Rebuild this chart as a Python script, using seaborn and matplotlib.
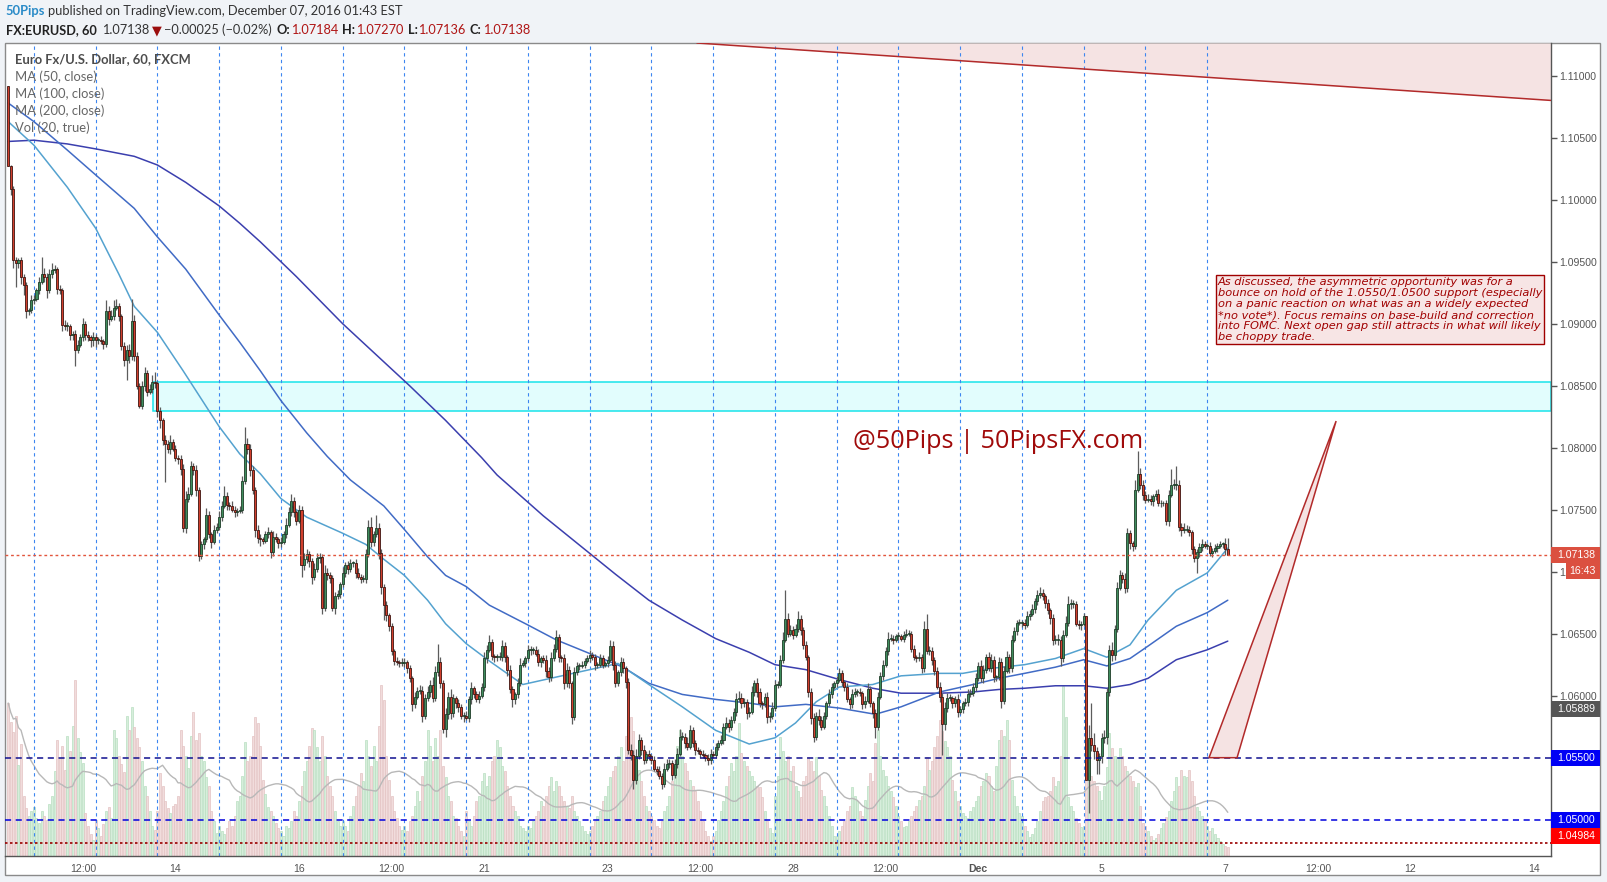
import numpy as np
import pandas as pd
import matplotlib
matplotlib.use("Agg")
import matplotlib.pyplot as plt
import matplotlib.transforms as mtransforms
from matplotlib.patches import Rectangle, Polygon
from matplotlib.ticker import FormatStrFormatter
import seaborn as sns

W, H = 1607, 882

# ---- EURUSD 60 min candles (FXCM) ----
first_open = 1.1092
close_blocks = [
    [1.1027, 1.1009, 1.0951, 1.0949, 1.0951, 1.0938, 1.0931, 1.0910, 1.0911, 1.0919, 1.0920, 1.0927, 1.0934,
     1.0940, 1.0938, 1.0927, 1.0940, 1.0943, 1.0944, 1.0928, 1.0927, 1.0899, 1.0898, 1.0898, 1.0891],
    [1.0892, 1.0879, 1.0883, 1.0889, 1.0900, 1.0891, 1.0889, 1.0887, 1.0889, 1.0887, 1.0887, 1.0886, 1.0884,
     1.0910, 1.0904, 1.0906, 1.0913, 1.0914, 1.0906, 1.0882, 1.0871, 1.0879, 1.0874, 1.0902, 1.0874],
    [1.0850, 1.0834, 1.0850, 1.0860, 1.0845, 1.0847, 1.0853, 1.0852, 1.0830, 1.0822, 1.0806, 1.0803, 1.0799,
     1.0805, 1.0799, 1.0792, 1.0791, 1.0783, 1.0735, 1.0759, 1.0763, 1.0785, 1.0782, 1.0766, 1.0713],
    [1.0722, 1.0726, 1.0746, 1.0730, 1.0724, 1.0734, 1.0736, 1.0744, 1.0753, 1.0761, 1.0754, 1.0753, 1.0750,
     1.0748, 1.0749, 1.0750, 1.0773, 1.0803, 1.0799, 1.0782, 1.0766, 1.0734, 1.0727, 1.0726, 1.0725],
    [1.0730, 1.0732, 1.0716, 1.0728, 1.0726, 1.0723, 1.0724, 1.0730, 1.0738, 1.0748, 1.0757, 1.0748, 1.0741,
     1.0750, 1.0705, 1.0710, 1.0714, 1.0709, 1.0696, 1.0702, 1.0711, 1.0712, 1.0671, 1.0699, 1.0697],
    [1.0695, 1.0671, 1.0680, 1.0682, 1.0690, 1.0699, 1.0705, 1.0702, 1.0707, 1.0707, 1.0699, 1.0696, 1.0694,
     1.0694, 1.0714, 1.0736, 1.0724, 1.0730, 1.0735, 1.0715, 1.0688, 1.0673, 1.0665, 1.0656, 1.0636],
    [1.0628, 1.0627, 1.0626, 1.0626, 1.0627, 1.0622, 1.0614, 1.0593, 1.0599, 1.0604, 1.0604, 1.0584, 1.0598,
     1.0603, 1.0609, 1.0598, 1.0619, 1.0627, 1.0610, 1.0573, 1.0585, 1.0599, 1.0586, 1.0598, 1.0594],
    [1.0591, 1.0584, 1.0584, 1.0582, 1.0597, 1.0606, 1.0601, 1.0597, 1.0600, 1.0607, 1.0630, 1.0637, 1.0643,
     1.0632, 1.0631, 1.0631, 1.0631, 1.0640, 1.0631, 1.0621, 1.0605, 1.0597, 1.0601, 1.0610, 1.0625],
    [1.0626, 1.0630, 1.0637, 1.0637, 1.0637, 1.0634, 1.0627, 1.0630, 1.0629, 1.0620, 1.0615, 1.0630, 1.0638,
     1.0647, 1.0631, 1.0630, 1.0610, 1.0621, 1.0610, 1.0583, 1.0619, 1.0624, 1.0624, 1.0625, 1.0628],
    [1.0630, 1.0633, 1.0631, 1.0625, 1.0625, 1.0630, 1.0625, 1.0626, 1.0629, 1.0640, 1.0625, 1.0610, 1.0619,
     1.0627, 1.0622, 1.0611, 1.0556, 1.0552, 1.0532, 1.0551, 1.0564, 1.0556, 1.0548, 1.0553, 1.0551],
    [1.0548, 1.0541, 1.0539, 1.0535, 1.0529, 1.0541, 1.0545, 1.0546, 1.0536, 1.0545, 1.0553, 1.0567, 1.0567,
     1.0562, 1.0559, 1.0572, 1.0562, 1.0556, 1.0555, 1.0553, 1.0552, 1.0550, 1.0548, 1.0553, 1.0552],
    [1.0559, 1.0562, 1.0564, 1.0575, 1.0578, 1.0575, 1.0580, 1.0587, 1.0597, 1.0598, 1.0594, 1.0595, 1.0586,
     1.0587, 1.0603, 1.0610, 1.0603, 1.0594, 1.0593, 1.0599, 1.0583, 1.0584, 1.0590, 1.0609, 1.0609],
    [1.0629, 1.0645, 1.0662, 1.0650, 1.0653, 1.0649, 1.0654, 1.0662, 1.0653, 1.0641, 1.0631, 1.0603, 1.0582,
     1.0567, 1.0584, 1.0580, 1.0575, 1.0584, 1.0594, 1.0601, 1.0607, 1.0610, 1.0613, 1.0618, 1.0611],
    [1.0607, 1.0597, 1.0593, 1.0601, 1.0603, 1.0603, 1.0602, 1.0593, 1.0596, 1.0605, 1.0594, 1.0586, 1.0575,
     1.0599, 1.0616, 1.0625, 1.0636, 1.0646, 1.0646, 1.0645, 1.0648, 1.0648, 1.0646, 1.0649, 1.0650],
    [1.0650, 1.0638, 1.0631, 1.0630, 1.0631, 1.0622, 1.0654, 1.0636, 1.0636, 1.0629, 1.0620, 1.0607, 1.0599,
     1.0577, 1.0590, 1.0598, 1.0598, 1.0594, 1.0597, 1.0587, 1.0589, 1.0594, 1.0595, 1.0601, 1.0602],
    [1.0607, 1.0614, 1.0624, 1.0614, 1.0621, 1.0631, 1.0622, 1.0629, 1.0615, 1.0615, 1.0627, 1.0596, 1.0620,
     1.0631, 1.0622, 1.0645, 1.0652, 1.0659, 1.0659, 1.0659, 1.0657, 1.0664, 1.0666, 1.0670, 1.0676],
    [1.0681, 1.0683, 1.0680, 1.0675, 1.0669, 1.0663, 1.0645, 1.0645, 1.0645, 1.0630, 1.0649, 1.0659, 1.0674,
     1.0674, 1.0674, 1.0658, 1.0657, 1.0658, 1.0664, 1.0532, 1.0566, 1.0560, 1.0555, 1.0548, 1.0551],
    [1.0566, 1.0567, 1.0603, 1.0637, 1.0633, 1.0654, 1.0687, 1.0697, 1.0694, 1.0687, 1.0731, 1.0723, 1.0721,
     1.0766, 1.0779, 1.0770, 1.0762, 1.0758, 1.0759, 1.0757, 1.0761, 1.0763, 1.0755, 1.0755, 1.0755],
    [1.0741, 1.0762, 1.0770, 1.0770, 1.0770, 1.0736, 1.0734, 1.0734, 1.0734, 1.0732, 1.0718, 1.0711, 1.0716,
     1.0720, 1.0722, 1.0721, 1.0721, 1.0715, 1.0717, 1.0719, 1.0721, 1.0722, 1.0722, 1.07184, 1.07138],
]
# wick lengths in pips, one base-36 character per candle
wick_up_blocks = [
    "0123232324324e53463232432", "23435232432329456632345i5", "3245346823243523234654342",
    "32532435483243234e5432432", "3425324354632435432543264", "324325343234234683b432323",
    "23243232435435465f4354632", "3234352343546323453243245", "3243234234354632453243232",
    "3423243235432432354653423", "2324354324564354323232342", "3243534356432453432343543",
    "46n5434632323435432432343", "2324323245323434354323234", "3232436c43234354323432343",
    "3435434532434534323234343", "45323234534564323230asa43", "45346354354328i5434323432",
    "34d5f43543232343232323259",
]
wick_dn_blocks = [
    "056j468532323246232435344", "4d3234365632435232435g634", "32343234564v3423453432454",
    "3423523232432432324536453", "2353243232343294356324534", "435232342342323243256c543",
    "3232343532353243234364534", "4352343232342343234536432", "2324323435432343534632323",
    "2324323232432345347324323", "3232432342323432342323432", "2323243232435323434254323",
    "2323232343245434323232323", "3243232432349323232323232", "2323243234324p53243423232",
    "2323432343263243232432323", "32343543463234323420r56bb", "5463543234354323432343232",
    "342343532343c432323232350",
]
volume_blocks = [
    [153, 134, 124, 140, 91, 112, 60, 48, 40, 45],
    [49, 38, 33, 45, 40, 36, 52, 60, 85, 116, 98, 110, 86, 120, 105, 130, 176, 118, 104, 93, 43, 30, 22, 16],
    [36, 28, 20, 32, 45, 49, 38, 126, 118, 100, 92, 84, 140, 126, 149, 129, 118, 109, 95, 70, 60, 45, 30, 26],
    [45, 83, 70, 55, 48, 43, 50, 52, 60, 126, 110, 100, 88, 120, 144, 116, 123, 100, 95, 79, 70, 45, 35, 23],
    [30, 25, 22, 28, 35, 30, 40, 55, 60, 80, 114, 95, 100, 120, 139, 133, 110, 76, 62, 49, 45, 40, 33, 28],
    [25, 20, 30, 28, 35, 45, 40, 55, 70, 85, 95, 110, 128, 126, 109, 95, 120, 100, 80, 70, 60, 45, 35, 30],
    [35, 30, 25, 40, 50, 60, 70, 83, 75, 116, 100, 90, 110, 95, 130, 171, 156, 100, 76, 60, 45, 38, 30, 26],
    [30, 25, 35, 40, 50, 65, 55, 80, 95, 126, 110, 95, 118, 100, 126, 90, 79, 60, 55, 40, 38, 30, 25, 20],
    [45, 35, 30, 40, 55, 60, 75, 83, 70, 80, 95, 100, 116, 109, 90, 85, 70, 60, 50, 45, 40, 30, 28, 25],
    [30, 28, 35, 40, 45, 55, 50, 60, 70, 79, 65, 75, 70, 60, 55, 50, 48, 60, 45, 40, 35, 30, 25, 22],
    [25, 30, 35, 40, 45, 55, 60, 70, 79, 85, 90, 100, 109, 95, 120, 130, 139, 125, 100, 86, 75, 60, 50, 45],
    [40, 36, 30, 28, 35, 45, 50, 60, 75, 90, 110, 126, 100, 93, 85, 76, 70, 65, 55, 45, 35, 25, 20, 15],
    [20, 25, 36, 45, 55, 70, 80, 93, 85, 100, 133, 103, 95, 90, 85, 80, 75, 70, 69, 59, 45, 35, 28, 23],
    [60, 80, 119, 105, 95, 100, 85, 90, 70, 65, 59, 75, 80, 99, 95, 85, 99, 80, 66, 60, 50, 40, 30, 20],
    [20, 25, 30, 35, 45, 50, 69, 60, 55, 45, 40, 56, 70, 83, 75, 113, 126, 100, 86, 80, 70, 65, 59, 50],
    [40, 35, 29, 30, 35, 40, 45, 50, 56, 60, 70, 99, 86, 95, 109, 120, 136, 125, 115, 109, 100, 76, 65, 55],
    [50, 43, 40, 38, 45, 49, 55, 60, 70, 75, 83, 80, 70, 65, 90, 116, 126, 120, 136, 116, 76, 60, 50, 43],
    [40, 30, 25, 19, 22, 28, 35, 45, 55, 59, 60, 65, 79, 70, 75, 100, 170, 139, 59, 50, 45, 38, 33, 29],
    [30, 96, 83, 80, 75, 70, 65, 56, 70, 89, 123, 108, 100, 99, 108, 100, 90, 85, 80, 75, 69, 73, 50, 33],
    [30, 25, 20, 16, 18, 22, 28, 33, 39, 45, 55, 65, 79, 70, 86, 80, 79, 86, 75, 60, 49, 45, 40, 35],
    [30, 25, 28, 22, 18, 15, 12, 10, 9],
]

# moving averages (bar index, price)
ma50_idx = [0, 10, 23, 34, 43, 49, 58, 68, 82, 90, 98, 106, 116, 130, 139, 146, 154, 163, 170, 178, 187, 200,
            213, 226, 237, 249, 262, 275, 288, 298, 306, 314, 323, 336, 347, 362, 371, 382, 395, 407, 418, 427,
            436, 443, 454, 466, 474]
ma50_val = [1.1063, 1.1044, 1.1010, 1.0977, 1.0940, 1.0914, 1.0893, 1.0862, 1.0817, 1.0795, 1.0779, 1.0759,
            1.0744, 1.0731, 1.0722, 1.0710, 1.0697, 1.0677, 1.0658, 1.0642, 1.0628, 1.0609, 1.0615, 1.0621,
            1.0626, 1.0609, 1.0591, 1.0572, 1.0561, 1.0566, 1.0578, 1.0595, 1.0607, 1.0609, 1.0616, 1.0618,
            1.0618, 1.0622, 1.0625, 1.0630, 1.0638, 1.0631, 1.0641, 1.0661, 1.0685, 1.0699, 1.0719]
ma100_idx = [0, 10, 23, 34, 49, 58, 69, 82, 90, 98, 106, 116, 124, 133, 146, 154, 163, 170, 178, 187, 202, 213,
             226, 239, 249, 262, 275, 288, 298, 310, 323, 337, 347, 362, 375, 385, 395, 407, 418, 427, 436, 443,
             454, 466, 474]
ma100_val = [1.1078, 1.1063, 1.1040, 1.1020, 1.0993, 1.0970, 1.0944, 1.0907, 1.0885, 1.0862, 1.0838, 1.0812,
             1.0793, 1.0774, 1.0753, 1.0734, 1.0712, 1.0697, 1.0688, 1.0673, 1.0657, 1.0645, 1.0634, 1.0623,
             1.0610, 1.0601, 1.0597, 1.0594, 1.0591, 1.0593, 1.0590, 1.0585, 1.0591, 1.0603, 1.0609, 1.0614,
             1.0618, 1.0623, 1.0629, 1.0624, 1.0630, 1.0640, 1.0656, 1.0667, 1.0677]
ma200_idx = [0, 10, 23, 34, 49, 58, 69, 82, 90, 98, 112, 130, 156, 170, 184, 190, 208, 236, 249, 262, 275, 288,
             298, 310, 323, 336, 347, 362, 375, 385, 395, 407, 418, 427, 436, 443, 454, 466, 474]
ma200_val = [1.1047, 1.1048, 1.1045, 1.1041, 1.1035, 1.1028, 1.1014, 1.0995, 1.0981, 1.0966, 1.0938, 1.0900,
             1.0850, 1.0822, 1.0792, 1.0778, 1.0745, 1.0698, 1.0677, 1.0661, 1.0646, 1.0635, 1.0625, 1.0621,
             1.0613, 1.0606, 1.0602, 1.0602, 1.0603, 1.0605, 1.0606, 1.0608, 1.0608, 1.0606, 1.0609, 1.0614,
             1.0629, 1.0637, 1.0644]

session_bars = list(range(10, 467, 24))   # 17:00 EST daily separators
xtick_pos = [29, 65, 113, 149, 185, 233, 269, 305, 341, 377, 425, 473, 509, 545, 593]
xtick_lab = ["12:00", "14", "16", "12:00", "21", "23", "12:00", "28", "12:00", "Dec", "5", "7", "12:00", "12", "14"]
ytick_vals = [1.050, 1.055, 1.060, 1.065, 1.070, 1.075, 1.080, 1.085, 1.090, 1.095, 1.100, 1.105, 1.110]

zone_start, zone_lo, zone_hi = 56.4, 1.0830, 1.0853
trend_x = [267.7, 599.5]
trend_y = [1.11264, 1.10801]
tri_x = [466.7, 477.6, 516.1]
tri_y = [1.0550, 1.0550, 1.08215]
last_price = 1.07138
support_levels = [1.0550, 1.0500]
low_line = 1.04814
price_tags = [("1.07138", 1.07138, "#db5040"), ("1.05889", 1.05889, "#555555"),
              ("1.05500", 1.05500, "#0000f5"), ("1.05000", 1.05000, "#0000f5"),
              ("1.04984", 1.04872, "#ff0000")]
countdown = ("16:43", 1.07008)

note = ("As discussed, the asymmetric opportunity was for a\n"
        "bounce on hold of the 1.0550/1.0500 support (especially\n"
        "on a panic reaction on what was an a widely expected\n"
        "*no vote*). Focus remains on base-build and correction\n"
        "into FOMC. Next open gap still attracts in what will likely\n"
        "be choppy trade.")

# ---- assemble ----
for b in close_blocks:
    assert len(b) == 25
for b in wick_up_blocks + wick_dn_blocks:
    assert len(b) == 25, b
closes = np.array([c for b in close_blocks for c in b])
opens = np.concatenate([[first_open], closes[:-1]])
up_pips = np.array([int(ch, 36) for b in wick_up_blocks for ch in b])
dn_pips = np.array([int(ch, 36) for b in wick_dn_blocks for ch in b])
highs = np.maximum(opens, closes) + up_pips * 1e-4
lows = np.minimum(opens, closes) - dn_pips * 1e-4
volume = np.array([v for b in volume_blocks for v in b], dtype=float)
assert len(volume) == len(closes)
idx = np.arange(len(closes))
rising = closes >= opens
vol_ma = pd.Series(volume).rolling(20, min_periods=1).mean()

sns.set_theme(style="white")
plt.rcParams["font.family"] = ["Liberation Sans", "DejaVu Sans"]

fig = plt.figure(figsize=(W / 100, H / 100), dpi=100)
fig.patch.set_facecolor("#f0f3f7")
fig.add_artist(Rectangle((5 / W, (H - 875) / H), 1595 / W, 832 / H, transform=fig.transFigure,
                         facecolor="white", edgecolor="#8a8a8a", lw=1, zorder=-5))

rect = [5 / W, (H - 856) / H, (1550.7 - 5) / W, (856 - 43) / H]
X_MIN, X_MAX = -1.24, 599.5
Y_MIN, Y_MAX = 1.04707, 1.11264

ax_vol = fig.add_axes(rect)
ax_vol.patch.set_visible(False)
ax_vol.bar(idx, volume, width=0.78,
           color=np.where(rising, "#d6eedb", "#f1dcdc"),
           edgecolor=np.where(rising, "#b9dfc1", "#e3c3c3"), linewidth=0.5)
sns.lineplot(x=idx, y=vol_ma.values, ax=ax_vol, color="#b8b8b8", linewidth=1.0)
ax_vol.set_xlim(X_MIN, X_MAX)
ax_vol.set_ylim(0, 813)
ax_vol.axis("off")

ax = fig.add_axes(rect)
ax.patch.set_visible(False)
ax.set_xlim(X_MIN, X_MAX)
ax.set_ylim(Y_MIN, Y_MAX)

for b in session_bars:
    ax.axvline(b, color="#3d86f0", lw=0.8, ls=(0, (3, 3)), zorder=1.5)

ax.add_patch(Rectangle((zone_start, zone_lo), X_MAX - zone_start, zone_hi - zone_lo,
                       facecolor="#e2fdfd", edgecolor="#19e3ea", lw=1.1, zorder=1.2))
ax.fill_between(trend_x, trend_y, Y_MAX, color="#f5e3e3", zorder=1.1, lw=0)
ax.plot(trend_x, trend_y, color="#b22a2a", lw=1.1, zorder=4)

for mi, mv, col in [(ma200_idx, ma200_val, "#3b3fae"), (ma100_idx, ma100_val, "#416bc5"),
                    (ma50_idx, ma50_val, "#54a2cf")]:
    sns.lineplot(x=mi, y=mv, ax=ax, color=col, linewidth=1.1, zorder=2.5)

ax.vlines(idx, lows, highs, color="#5c5c5c", lw=0.9, zorder=3)
body = np.maximum(np.abs(closes - opens), 0.00008)
ax.bar(idx, body, bottom=np.minimum(opens, closes), width=0.8,
       color=np.where(rising, "#3f8d5d", "#d13f2d"),
       edgecolor=np.where(rising, "#1f3d29", "#3d1510"), linewidth=0.6, zorder=3.5)

ax.axhline(last_price, color="#e2553d", lw=1.0, ls=(0, (2, 2)), zorder=4)
ax.axhline(support_levels[0], color="#101090", lw=1.1, ls=(0, (4, 3)), zorder=4)
ax.axhline(support_levels[1], color="#0000dd", lw=1.1, ls=(0, (4, 3)), zorder=4)
ax.axhline(low_line, color="#9a0000", lw=1.2, ls=(0, (1.5, 1.5)), zorder=4)

ax.add_patch(Polygon(np.column_stack([tri_x, tri_y]), closed=True, facecolor="#f5e3e3",
                     edgecolor="#b22a2a", lw=1.1, zorder=4.5))

ax.text(328.2, 1.08048, "@50Pips | 50PipsFX.com", color="#a00a0a", fontsize=18.2,
        family=["Open Sans", "DejaVu Sans"], ha="left", va="center", zorder=6)
ax.text(470.2, 1.09375, note, color="#a00000", fontsize=8.2, style="italic",
        family=["DejaVu Sans"], ha="left", va="top", linespacing=1.13, zorder=6,
        bbox=dict(boxstyle="square,pad=0.18", facecolor="#f7e5e5", edgecolor="#a00000", lw=1))

# axes styling
for s in ["left", "top"]:
    ax.spines[s].set_visible(False)
for s in ["right", "bottom"]:
    ax.spines[s].set_color("#555555")
    ax.spines[s].set_linewidth(1)
ax.yaxis.tick_right()
ax.set_yticks(ytick_vals)
ax.yaxis.set_major_formatter(FormatStrFormatter("%.5f"))
ax.tick_params(axis="y", direction="out", length=4, width=1, color="#555555",
               labelcolor="#555555", labelsize=7.6, pad=2)
ax.set_xticks(xtick_pos, xtick_lab)
ax.tick_params(axis="x", direction="out", length=4, width=1, color="#555555",
               labelcolor="#555555", labelsize=7.6, pad=2)
for lbl in ax.get_xticklabels():
    if lbl.get_text() == "Dec":
        lbl.set_fontweight("bold")
ax.set_xlabel("")
ax.set_ylabel("")
ax.grid(False)

# price tags on the right scale
bt = mtransforms.blended_transform_factory(ax.transAxes, ax.transData)
axw = 1550.7 - 5
tag_h = 16 / 12400
for txt, yv, col in price_tags:
    ax.add_patch(Rectangle((1.0, yv - tag_h / 2), (1600 - 1550.7) / axw, tag_h, transform=bt,
                           facecolor=col, edgecolor="none", clip_on=False, zorder=10))
    ax.text((1557 - 5) / axw, yv, txt, transform=bt, color="white", fontsize=7.6,
            ha="left", va="center", clip_on=False, zorder=11)
ax.add_patch(Rectangle(((1566 - 5) / axw, countdown[1] - tag_h / 2), (1600 - 1566) / axw, tag_h,
                       transform=bt, facecolor="#db5040", edgecolor="none", clip_on=False, zorder=10))
ax.text((1569 - 5) / axw, countdown[1], countdown[0], transform=bt, color="white", fontsize=7.6,
        ha="left", va="center", clip_on=False, zorder=11)

# legend block, top-left
legend_lines = [("Euro Fx/U.S. Dollar, 60, FXCM", "bold", "#4d4d4d"), ("MA (50, close)", "normal", "#666666"),
                ("MA (100, close)", "normal", "#666666"), ("MA (200, close)", "normal", "#666666"),
                ("Vol (20, true)", "normal", "#666666")]
for k, (txt, wgt, col) in enumerate(legend_lines):
    fig.text(15.4 / W, 1 - (59.5 + 17.1 * k) / H, txt, fontsize=9.4, fontweight=wgt, color=col,
             family=["Lato", "DejaVu Sans"], ha="left", va="center")

# header
renderer = fig.canvas.get_renderer()


def text_runs(items, x, y, size):
    for txt, wgt, col, gap in items:
        t = fig.text(x / W, 1 - y / H, txt, fontsize=size, fontweight=wgt, color=col,
                     family=["Lato", "DejaVu Sans"], ha="left", va="center")
        x += t.get_window_extent(renderer).width + gap


text_runs([("50Pips", "bold", "#2a8bc8", 3),
           ("published on TradingView.com, December 07, 2016 01:43 EST", "normal", "#333333", 0)],
          5.7, 11.0, 9.3)
red = "#b01515"
text_runs([("FX:EURUSD, 60", "bold", "#222222", 5), ("1.07138", "normal", "#333333", 3),
           ("\u25bc", "normal", "#9b0d0d", 2), ("\u22120.00025 (\u22120.02%)", "normal", "#333333", 5),
           ("O:", "bold", "#222222", 1), ("1.07184", "normal", red, 4),
           ("H:", "bold", "#222222", 1), ("1.07270", "normal", red, 4),
           ("L:", "bold", "#222222", 1), ("1.07136", "normal", red, 4),
           ("C:", "bold", "#222222", 1), ("1.07138", "normal", red, 0)],
          5.7, 30.0, 9.2)

fig.savefig("out.png", dpi=100, facecolor=fig.get_facecolor())
